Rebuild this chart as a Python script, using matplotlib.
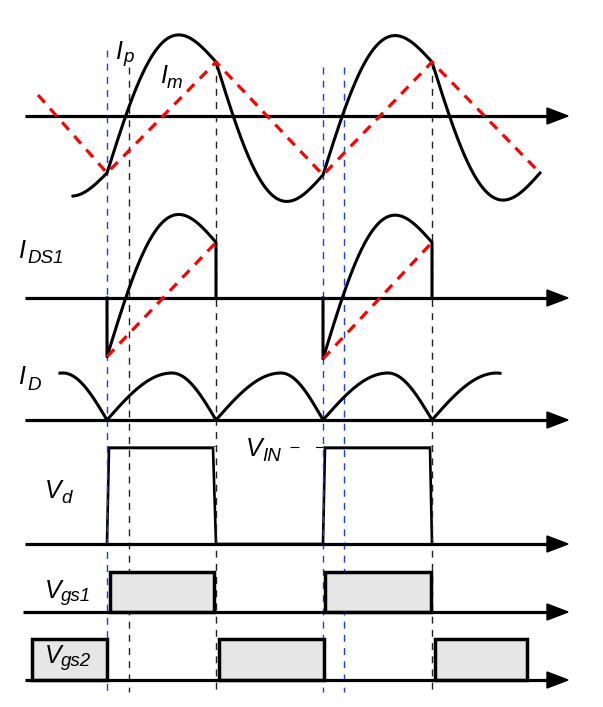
import numpy as np
import matplotlib.pyplot as plt
from matplotlib.patches import Rectangle, Polygon

plt.rcParams['font.family'] = ['Liberation Sans', 'DejaVu Sans']

# switching instants along the time axis (drawing units, left to right)
t_sw = [107, 216, 323, 432]
t_edges = [-2] + t_sw + [540]          # half-cycle edges incl. the ones just outside

# timing marker lines
blue_marks = [107, 323, 344]
blue_tops = [50, 67, 67]
black_marks = [129, 216, 432]
black_tops = [67, 62, 62]
mark_bottom = 692

# magnetising current Im (triangle corners), and resonant current Ip
im_t = [38, 107, 216, 323, 432, 540]
im_v = [21, -57, 54, -59, 54, -57]
ip_amp = 74
ip_span = (73, 540)

# switch current Ids1 follows Ip while S1 is on
ids_scale = 1.03

# output diode current humps
id_peak = 47
id_peak_delay = 65
id_span = (60, 500)

# midpoint voltage Vd
vd_t = [107, 109, 213, 216, 323, 325, 430, 432]
vd_v = [0, 96, 96, 0, 0, 96, 96, 0]

# gate signals
vgs1_on = [(110, 214), (325, 431)]
vgs2_on = [(32, 107), (219, 324), (435, 527)]
vgs1_level = 40
vgs2_level = 41

# baseline of each trace
base = {'ip': 116, 'ids1': 298, 'id': 420, 'vd': 544, 'vgs1': 612, 'vgs2': 680}


def half_cycle(t):
    edges = np.array(t_edges)
    i = np.clip(np.searchsorted(edges, t, side='right') - 1, 0, len(edges) - 2)
    ts, te = edges[i], edges[i + 1]
    sign = np.where(i % 2 == 1, 1.0, -1.0)
    return ts, te, sign


def ip_of(t):
    ts, te, sign = half_cycle(t)
    return np.interp(t, im_t, im_v) + sign * ip_amp * np.sin(np.pi * (t - ts) / (te - ts))


def id_of(t):
    ts, te, _ = half_cycle(t)
    tau, T = t - ts, te - ts
    p = id_peak_delay
    rise = id_peak * np.sin(np.pi / 2 * tau / p)
    fall = id_peak * np.sin(np.pi / 2 * (T - tau) / (T - p))
    return np.where(tau <= p, rise, fall)


def draw_axis(y, x0=25, tip=568):
    ax.plot([x0, tip - 15], [y, y], color='black', lw=2.3, solid_capstyle='butt', zorder=4)
    ax.add_patch(Polygon([[tip, y], [tip - 21, y - 8], [tip - 21, y + 8]],
                         closed=True, color='black', zorder=4))


def label(x, y, main, sub, xs, ys, size=18, subsize=13.5):
    ax.text(x, y, main, fontsize=size, style='italic', va='baseline', ha='left', zorder=6)
    ax.text(xs, ys, sub, fontsize=subsize, style='italic', va='baseline', ha='left', zorder=6)


fig = plt.figure(figsize=(6.03, 7.07), dpi=100)
ax = fig.add_axes([0, 0, 1, 1])
ax.set_xlim(0, 603)
ax.set_ylim(707, 0)
ax.axis('off')

red_dash = (0, (3.2, 2.5))
mark_dash = (0, (5, 4.5))

# marker lines
for x, top in zip(blue_marks, blue_tops):
    ax.plot([x, x], [top, mark_bottom], color='#1a3cff', lw=1.0, linestyle=mark_dash, zorder=2)
for x, top in zip(black_marks, black_tops):
    ax.plot([x, x], [top, mark_bottom], color='#222222', lw=1.0, linestyle=mark_dash, zorder=2)

# axes
for key in base:
    draw_axis(base[key], x0=23 if key == 'vgs1' else 25)

# Ip and Im
t = np.linspace(ip_span[0], ip_span[1], 1200)
ax.plot(t, base['ip'] - ip_of(t), color='black', lw=2.2, zorder=5)
ax.plot(im_t, base['ip'] - np.array(im_v), color='red', lw=2.3, linestyle=red_dash, zorder=5)

# Ids1 and its Im part
for ts, te in [(t_sw[0], t_sw[1]), (t_sw[2], t_sw[3])]:
    tt = np.linspace(ts, te - 1e-6, 400)
    y = ids_scale * ip_of(tt)
    ax.plot(np.r_[ts, tt, te], base['ids1'] - np.r_[0, y, 0], color='black', lw=2.2, zorder=5)
    ax.plot([ts, te], base['ids1'] - ids_scale * np.interp([ts, te - 1e-6], im_t, im_v),
            color='red', lw=2.3, linestyle=red_dash, zorder=5)

# Id
t = np.linspace(id_span[0], id_span[1], 1200)
ax.plot(t, base['id'] - id_of(t), color='black', lw=2.2, zorder=5)

# Vd
ax.plot(vd_t, base['vd'] - np.array(vd_v), color='black', lw=1.9, zorder=1)
for a, b in [(107, 216), (323, 432)]:
    ax.plot([a, b], [base['vd'] - 98, base['vd'] - 98], color='#555555', lw=0.7, zorder=1)
ax.plot([290, 323], [base['vd'] - 97, base['vd'] - 97], color='black', lw=0.8,
        linestyle=(0, (8, 15)), zorder=1)

# gate signals
for a, b in vgs1_on:
    ax.add_patch(Rectangle((a, base['vgs1'] - vgs1_level), b - a, vgs1_level,
                           facecolor='#e6e6e6', edgecolor='black', lw=2.5, zorder=3))
for a, b in vgs2_on:
    ax.add_patch(Rectangle((a, base['vgs2'] - vgs2_level), b - a, vgs2_level,
                           facecolor='#e6e6e6', edgecolor='black', lw=2.5, zorder=3))

# labels
label(115, 59, 'I', 'p', 123, 62)
label(160, 83, 'I', 'm', 167, 88)
label(18, 258, 'I', 'DS1', 27, 263)
label(18, 384, 'I', 'D', 27, 390)
label(45, 498, 'V', 'd', 61, 503)
label(246, 456, 'V', 'IN', 262, 461)
label(45, 598, 'V', 'gs1', 61, 601)
label(45, 663, 'V', 'gs2', 61, 666)

plt.savefig('out.png', dpi=100)
